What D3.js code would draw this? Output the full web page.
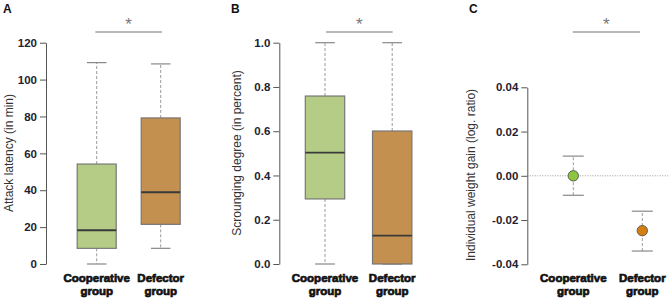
<!DOCTYPE html>
<html>
<head>
<meta charset="utf-8">
<script src="https://cdn.jsdelivr.net/npm/d3@7"></script>
<style>
  body { margin: 0; background: #fff; }
  svg { display: block; font-family: "Liberation Sans", Arial, sans-serif; }
</style>
</head>
<body>
<div id="chart"></div>
<script>
// groups shared by all three panels
const groups = ['Cooperative group', 'Defector group'];

// A: attack latency (min), box stats
const latencyMin = [0, 8.5];
const latencyQ1 = [8.5, 21.5];
const latencyMed = [18.3, 38.9];
const latencyQ3 = [54.2, 79.2];
const latencyMax = [109.2, 108.5];
const latencyTicks = [0, 20, 40, 60, 80, 100, 120];

// B: scrounging degree, box stats
const scroungeMin = [0, 0];
const scroungeQ1 = [0.294, 0];
const scroungeMed = [0.503, 0.128];
const scroungeQ3 = [0.759, 0.601];
const scroungeMax = [1.0, 1.0];
const scroungeTicks = [0, 0.2, 0.4, 0.6, 0.8, 1.0];

// C: weight gain, mean and error bars
const gainMean = [0.0, -0.0248];
const gainLow = [-0.0088, -0.034];
const gainHigh = [0.0089, -0.016];
const gainTicks = [-0.04, -0.02, 0, 0.02, 0.04];

const boxFill = ['#b5cc86', '#c4904f'];
const dotFill = ['#8cc63f', '#d47f12'];

const width = 669, height = 298;
const svg = d3.select('#chart').append('svg')
    .attr('width', width)
    .attr('height', height);

function drawAxis(x, y, ticks, fmt) {
    const g = svg.append('g')
        .attr('transform', 'translate(' + x + ',0)')
        .call(d3.axisLeft(y).tickValues(ticks).tickFormat(fmt).tickSize(6).tickSizeOuter(0).tickPadding(3));
    g.select('.domain').attr('stroke', '#555');
    g.selectAll('.tick line').attr('stroke', '#555');
    g.selectAll('.tick text')
        .attr('fill', '#1e2230')
        .attr('font-size', 11.5)
        .attr('font-weight', 'bold')
        .attr('font-family', '"Liberation Sans", Arial, sans-serif');
    return g;
}

function yTitle(x, y, text) {
    svg.append('text')
        .attr('transform', 'translate(' + x + ',' + y + ') rotate(-90)')
        .attr('text-anchor', 'middle')
        .attr('dominant-baseline', 'middle')
        .attr('font-size', 12)
        .attr('fill', '#333')
        .text(text);
}

function panelLetter(x, text) {
    svg.append('text')
        .attr('x', x).attr('y', 13)
        .attr('font-size', 12)
        .attr('font-weight', 'bold')
        .attr('fill', '#111')
        .text(text);
}

// two-line category labels, one text element per line
function xLabels(xs) {
    groups.forEach(function (gname) {
        gname.split(' ').forEach(function (w, i) {
            svg.append('text')
                .attr('x', xs(gname))
                .attr('y', 282 + i * 12.5)
                .attr('text-anchor', 'middle')
                .attr('font-size', 11.5)
                .attr('font-weight', 'bold')
                .attr('fill', '#111')
                .attr('stroke', '#111')
                .attr('stroke-width', 0.7)
                .text(w);
        });
    });
}

function sigBar(x1, x2) {
    svg.append('line')
        .attr('x1', x1).attr('x2', x2)
        .attr('y1', 32).attr('y2', 32)
        .attr('stroke', '#777')
        .attr('stroke-width', 1.2);
    svg.append('text')
        .attr('x', (x1 + x2) / 2).attr('y', 30)
        .attr('text-anchor', 'middle')
        .attr('font-size', 17)
        .attr('fill', '#777')
        .text('*');
}

function boxes(xs, y, mins, q1, med, q3, maxs, boxW) {
    groups.forEach(function (gname, i) {
        const cx = xs(gname);
        const g = svg.append('g');
        // whiskers
        g.append('line')
            .attr('x1', cx).attr('x2', cx)
            .attr('y1', y(q3[i])).attr('y2', y(maxs[i]))
            .attr('stroke', '#999').attr('stroke-dasharray', '3,2');
        if (mins[i] < q1[i]) {
            g.append('line')
                .attr('x1', cx).attr('x2', cx)
                .attr('y1', y(q1[i])).attr('y2', y(mins[i]))
                .attr('stroke', '#999').attr('stroke-dasharray', '3,2');
        }
        // caps
        [mins[i], maxs[i]].forEach(function (v) {
            g.append('line')
                .attr('x1', cx - boxW / 4).attr('x2', cx + boxW / 4)
                .attr('y1', y(v)).attr('y2', y(v))
                .attr('stroke', '#888').attr('stroke-width', 1.2);
        });
        g.append('rect')
            .attr('x', cx - boxW / 2)
            .attr('y', y(q3[i]))
            .attr('width', boxW)
            .attr('height', y(q1[i]) - y(q3[i]))
            .attr('fill', boxFill[i])
            .attr('stroke', '#777')
            .attr('stroke-width', 1.2);
        g.append('line')
            .attr('x1', cx - boxW / 2).attr('x2', cx + boxW / 2)
            .attr('y1', y(med[i])).attr('y2', y(med[i]))
            .attr('stroke', '#3a3a3a')
            .attr('stroke-width', 1.8);
    });
}

// ---- panel A
const xA = d3.scalePoint().domain(groups).range([96.7, 160.7]);
const yA = d3.scaleLinear().domain([0, 120]).range([264, 42.7]);
boxes(xA, yA, latencyMin, latencyQ1, latencyMed, latencyQ3, latencyMax, 39);
drawAxis(46, yA, latencyTicks, d3.format('d'));
yTitle(10, 153, 'Attack latency (in min)');
panelLetter(3, 'A');
xLabels(xA);
sigBar(95.3, 162);

// ---- panel B
const xB = d3.scalePoint().domain(groups).range([325, 392.2]);
const yB = d3.scaleLinear().domain([0, 1]).range([264, 42.7]);
boxes(xB, yB, scroungeMin, scroungeQ1, scroungeMed, scroungeQ3, scroungeMax, 39.4);
drawAxis(279.3, yB, scroungeTicks, d3.format('.1f'));
yTitle(237.5, 153, 'Scrounging degree (in percent)');
panelLetter(231, 'B');
xLabels(xB);
sigBar(326, 392.7);

// ---- panel C
const xC = d3.scalePoint().domain(groups).range([573.3, 642.3]);
const yC = d3.scaleLinear().domain([-0.04, 0.04]).range([264.3, 87.3]);

svg.append('line')
    .attr('x1', 527.3).attr('x2', width)
    .attr('y1', yC(0)).attr('y2', yC(0))
    .attr('stroke', '#999')
    .attr('stroke-dasharray', '1,1.5');

groups.forEach(function (gname, i) {
    const cx = xC(gname);
    svg.append('line')
        .attr('x1', cx).attr('x2', cx)
        .attr('y1', yC(gainLow[i])).attr('y2', yC(gainHigh[i]))
        .attr('stroke', '#999').attr('stroke-dasharray', '3,2');
    [gainLow[i], gainHigh[i]].forEach(function (v) {
        svg.append('line')
            .attr('x1', cx - 10.5).attr('x2', cx + 10.5)
            .attr('y1', yC(v)).attr('y2', yC(v))
            .attr('stroke', '#888').attr('stroke-width', 1.2);
    });
    svg.append('circle')
        .attr('cx', cx).attr('cy', yC(gainMean[i]))
        .attr('r', 5.2)
        .attr('fill', dotFill[i])
        .attr('stroke', '#444')
        .attr('stroke-width', 0.8);
});

drawAxis(527.3, yC, gainTicks, function (d) { return d.toFixed(2); });
yTitle(472, 175, 'Individual weight gain (log. ratio)');
panelLetter(469, 'C');
xLabels(xC);
sigBar(572.7, 640);
</script>
</body>
</html>
